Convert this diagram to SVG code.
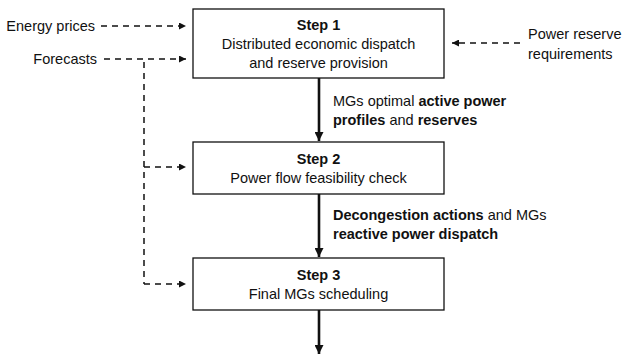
<svg xmlns="http://www.w3.org/2000/svg" width="624" height="355" viewBox="0 0 624 355">
  <style>
    text { font-family: "Liberation Sans", Arial, sans-serif; font-size: 14.5px; fill: #111; }
    .b { font-weight: bold; }
    .c { text-anchor: middle; }
    .r { text-anchor: end; }
    .box { fill: #fff; stroke: #111; stroke-width: 1.3; }
    .dash { fill: none; stroke: #111; stroke-width: 1.5; stroke-dasharray: 6 5; }
    .solid { fill: none; stroke: #111; stroke-width: 2.6; }
  </style>
  <defs>
    <marker id="headSmall" viewBox="0 0 10 10" refX="10" refY="5" markerWidth="8" markerHeight="7" markerUnits="userSpaceOnUse" orient="auto">
      <path d="M0,0 L10,5 L0,10 Z" fill="#111"/>
    </marker>
    <marker id="headBig" viewBox="0 0 10 10" refX="10" refY="5" markerWidth="10" markerHeight="9" markerUnits="userSpaceOnUse" orient="auto">
      <path d="M0,0 L10,5 L0,10 Z" fill="#111"/>
    </marker>
  </defs>

  <!-- input labels -->
  <g id="input-energy-prices">
    <text class="r" x="95" y="31">Energy prices</text>
  </g>
  <g id="input-forecasts">
    <text class="r" x="97" y="64">Forecasts</text>
  </g>
  <g id="input-reserve-requirements">
    <text x="528" y="39">Power reserve</text>
    <text x="528" y="59">requirements</text>
  </g>

  <!-- process steps -->
  <g id="step1">
    <rect class="box" x="193" y="9" width="251" height="69"/>
    <text class="c b" x="318.5" y="30">Step 1</text>
    <text class="c" x="318.5" y="49">Distributed economic dispatch</text>
    <text class="c" x="318.5" y="68">and reserve provision</text>
  </g>
  <g id="step2">
    <rect class="box" x="193" y="142" width="251" height="52"/>
    <text class="c b" x="318.5" y="164">Step 2</text>
    <text class="c" x="318.5" y="183">Power flow feasibility check</text>
  </g>
  <g id="step3">
    <rect class="box" x="193" y="258" width="251" height="52"/>
    <text class="c b" x="318.5" y="280">Step 3</text>
    <text class="c" x="318.5" y="299">Final MGs scheduling</text>
  </g>

  <!-- connector labels -->
  <g id="label-step1-step2">
    <text x="333" y="106">MGs optimal <tspan class="b">active power</tspan></text>
    <text x="333" y="125"><tspan class="b">profiles</tspan> and <tspan class="b">reserves</tspan></text>
  </g>
  <g id="label-step2-step3">
    <text x="333" y="220"><tspan class="b">Decongestion actions</tspan> and MGs</text>
    <text x="333" y="239" class="b">reactive power dispatch</text>
  </g>

  <!-- connectors -->
  <g id="connectors">
    <path class="dash" d="M101,26 H186" marker-end="url(#headSmall)"/>
    <path class="dash" d="M104,59 H186" marker-end="url(#headSmall)"/>
    <path class="dash" d="M520,43 H452" marker-end="url(#headSmall)"/>
    <path class="dash" d="M144,62 V284"/>
    <path class="dash" d="M144,167 H186" marker-end="url(#headSmall)"/>
    <path class="dash" d="M144,284 H186" marker-end="url(#headSmall)"/>
    <path class="solid" d="M319,78 V141" marker-end="url(#headBig)"/>
    <path class="solid" d="M319,194 V257" marker-end="url(#headBig)"/>
    <path class="solid" d="M319,310 V354" marker-end="url(#headBig)"/>
  </g>
</svg>
